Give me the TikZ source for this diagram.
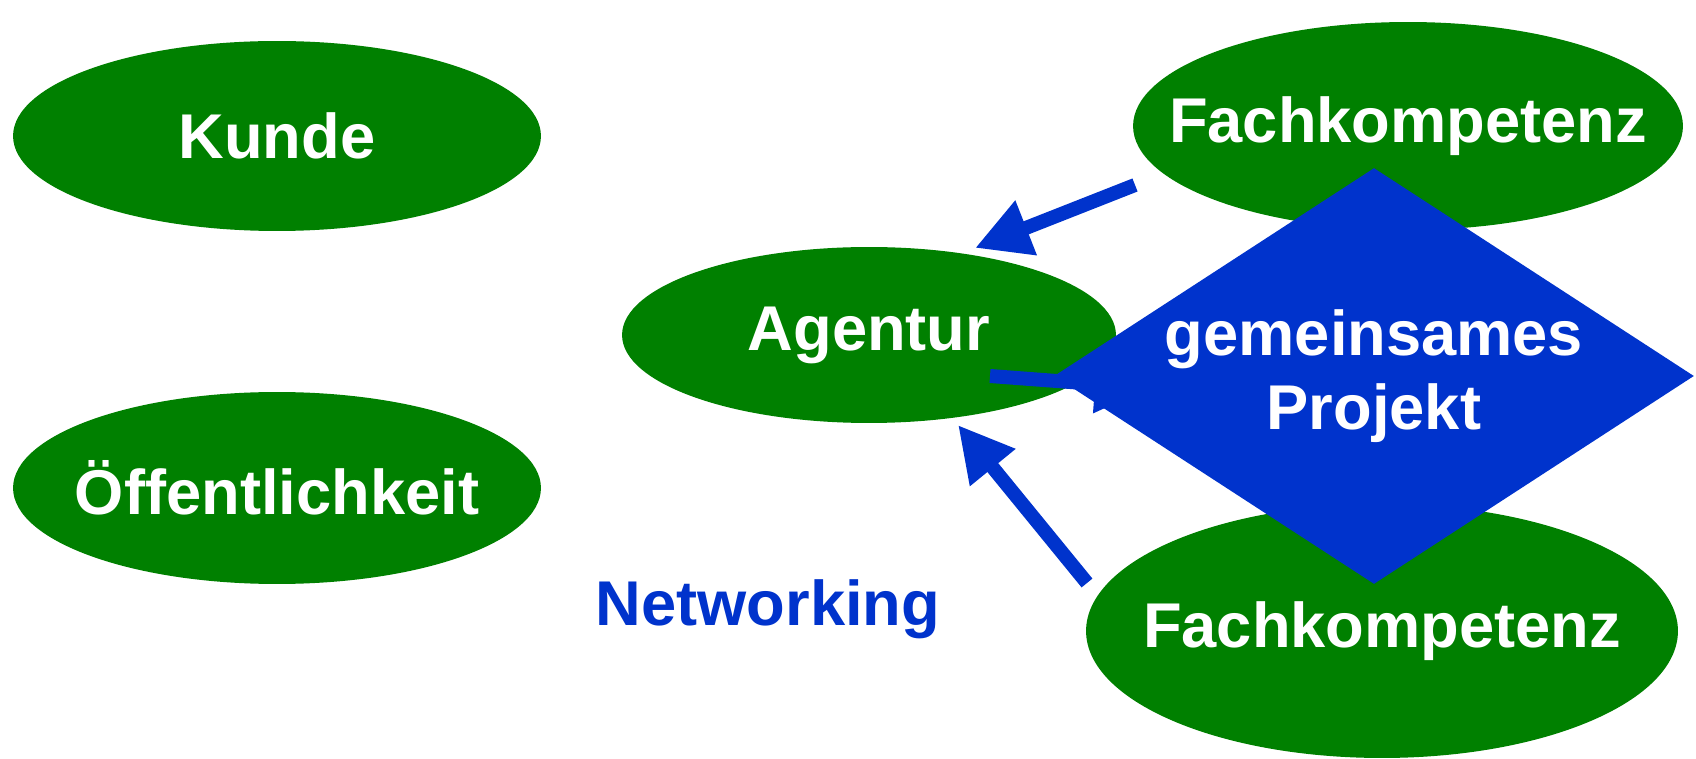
\documentclass[tikz,border=0pt]{standalone}
\usepackage{fontspec}
\setmainfont{Liberation Sans}
\usetikzlibrary{shapes.geometric,arrows.meta,calc}
\definecolor{gruen}{RGB}{0,128,0}
\definecolor{blau}{RGB}{0,51,204}

\begin{document}
\begin{tikzpicture}[x=0.02cm, y=-0.02cm,
    every node/.style={font=\fontsize{36}{42}\selectfont\bfseries, text=white, inner sep=0pt},
    oval/.style={ellipse, fill=gruen, inner xsep=-3cm, inner ysep=-0.5cm},
    pfeil/.style={draw=blau, line width=0.28cm, -{Triangle[length=1.1cm, width=1.1cm]}}]
    \useasboundingbox (0,0) rectangle (1696,759);
    \node[oval, minimum width=10.56cm, minimum height=3.8cm] (kunde) at (277,136) {Kunde};
    \node[oval, minimum width=10.56cm, minimum height=3.84cm] (oeffentlichkeit) at (277,488) {Öffentlichkeit};
    \node[oval, minimum width=9.88cm, minimum height=3.52cm] (agentur) at (869,335) {Agentur};
    \node[oval, minimum width=11cm, minimum height=4.16cm] (fachoben) at (1408,126) {Fachkompetenz};
    \node[oval, minimum width=11.84cm, minimum height=5.08cm] (fachunten) at (1382,631) {Fachkompetenz};
    \node[text=blau] (networking) at (768,609) {Networking};
    \coordinate (projektmitte) at (1374,376);
    % Pfeile
    \coordinate (p1) at ($(fachoben)+(-273,59)$);
    \coordinate (q1) at ($(agentur)+(106,-87)$);
    \coordinate (p2) at ($(fachunten)+(-295,-48)$);
    \coordinate (q2) at ($(agentur)+(89,90)$);
    \coordinate (p3) at ($(agentur)+(121,41)$);
    \coordinate (q3) at ($(projektmitte)+(-224,12)$);
    \draw[pfeil] (p1) -- (q1);
    \draw[pfeil] (p2) -- (q2);
    \draw[pfeil] (p3) -- (q3);
    \node[diamond, fill=blau, inner xsep=-3.5cm, inner ysep=-1cm, minimum width=12.8cm, minimum height=8.32cm, align=center] (projekt) at (projektmitte) {gemeinsames\\Projekt};
\end{tikzpicture}
\end{document}
